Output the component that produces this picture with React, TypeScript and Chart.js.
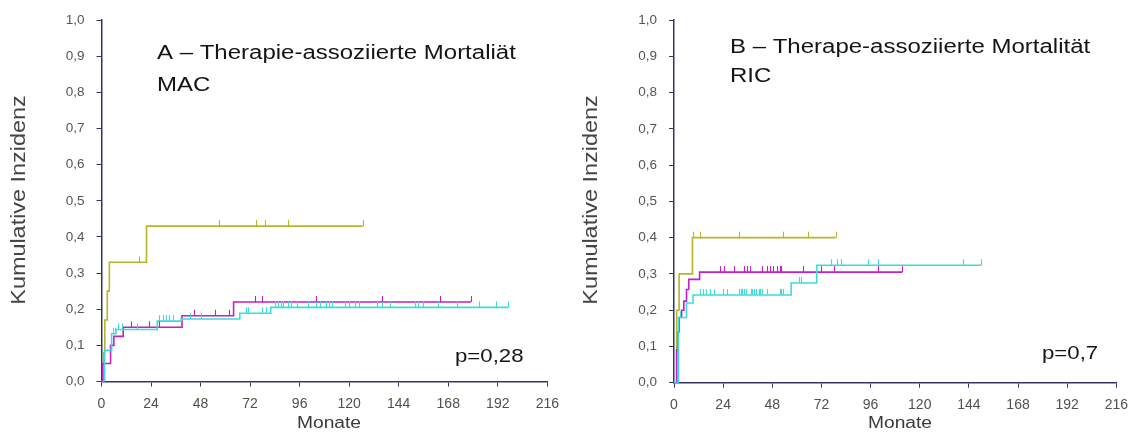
import React, { useEffect, useRef } from 'react';
import { Chart, registerables } from 'chart.js';

Chart.register(...registerables);

// Axis tick values
const monthTicks = [0, 24, 48, 72, 96, 120, 144, 168, 192, 216];
const incidenceTicks = [0, 0.1, 0.2, 0.3, 0.4, 0.5, 0.6, 0.7, 0.8, 0.9, 1.0];

// Panel A (MAC) – step points (months, cumulative incidence) and censoring times
const macOliveTimes = [0, 1, 1.6, 2.8, 3.8, 21.8, 126.6];
const macOliveValues = [0, 0.08, 0.17, 0.25, 0.33, 0.43, 0.43];
const macOliveCensored = [18.2, 57.1, 74.9, 79.3, 90.4, 126.6];

const macMagentaTimes = [0, 0.5, 4.4, 6, 10.5, 39, 64, 179];
const macMagentaValues = [0, 0.05, 0.1, 0.125, 0.15, 0.182, 0.22, 0.22];
const macMagentaCensored = [14.5, 23, 28, 44.7, 54.8, 61.6, 74.5, 78, 104, 136, 164, 179];

const macCyanTimes = [0, 1.5, 4.9, 7, 27, 38.6, 67, 82, 197];
const macCyanValues = [0, 0.086, 0.132, 0.144, 0.167, 0.173, 0.189, 0.205, 0.205];
const macCyanCensored = [
  5.4, 6.5, 8.1, 9.7, 17.4, 28, 29.6, 31.2, 32.8, 34.4, 43, 48, 70, 71.2, 77.7, 79.6,
  84, 85.5, 87, 88, 90.5, 92, 94.7, 100, 103.7, 106, 109, 110, 111.7, 118, 119.8, 123,
  124.6, 133.7, 135.8, 140, 152, 153.5, 156, 163, 172, 183, 191, 197,
];

// Panel B (RIC)
const ricOliveTimes = [0, 1.3, 2.5, 9, 79];
const ricOliveValues = [0, 0.2, 0.3, 0.4, 0.4];
const ricOliveCensored = [9.5, 12.5, 31.7, 53.4, 65.4, 79];

const ricMagentaTimes = [0, 1.3, 2, 2.5, 3.7, 4.8, 6.1, 7.2, 12.5, 111.5];
const ricMagentaValues = [0, 0.09, 0.14, 0.18, 0.2, 0.225, 0.257, 0.285, 0.305, 0.305];
const ricMagentaCensored = [
  22.6, 24.5, 29.3, 34.1, 35.7, 37.3, 42.9, 45.3, 46.9, 48.5, 50.1, 51.7, 52.4, 63, 72,
  78, 99.7, 111.5,
];

const ricCyanTimes = [0, 2.2, 6.1, 9.3, 57.2, 69.7, 150];
const ricCyanValues = [0, 0.18, 0.22, 0.242, 0.275, 0.324, 0.324];
const ricCyanCensored = [
  3, 12.5, 14.1, 15.7, 17.6, 19.7, 23.7, 26.1, 31.8, 32.6, 33.4, 34.2, 35, 37.4, 38.2,
  39, 39.8, 41.4, 42.2, 43, 45.3, 51.7, 52.4, 53.4, 61, 62, 69.4, 76.6, 79.8, 81.4, 94.6,
  99.4, 141.3, 150,
];

const OLIVE = '#b6b628';
const MAGENTA = '#c41fc4';
const CYAN = '#3ddcdc';
const AXIS = '#34346a';
const FONT = '"Liberation Sans", Arial, sans-serif';

type TextItem = {
  text: string;
  x: number;
  y: number;
  size: number;
  color: string;
  align?: CanvasTextAlign;
  baseline?: CanvasTextBaseline;
  rotate?: number;
  stretch?: number;
};

function stepSeries(times: number[], values: number[], color: string, censored: number[]) {
  return {
    data: times.map((t, i) => ({ x: t, y: values[i] })),
    borderColor: color,
    backgroundColor: color,
    borderWidth: 1.6,
    pointRadius: 0,
    stepped: 'before' as const,
    fill: false,
    censored,
  };
}

// Small vertical ticks above the curve at each censoring time
const censorPlugin = {
  id: 'censorMarks',
  afterDatasetsDraw(chart: any) {
    const { ctx } = chart;
    const xs = chart.scales.x;
    const ys = chart.scales.y;
    ctx.save();
    chart.data.datasets.forEach((ds: any) => {
      ctx.strokeStyle = ds.borderColor;
      ctx.lineWidth = 1.1;
      (ds.censored || []).forEach((t: number) => {
        let v = 0;
        for (const p of ds.data) if (p.x <= t) v = p.y;
        const px = Math.round(xs.getPixelForValue(t)) + 0.5;
        const py = ys.getPixelForValue(v);
        ctx.beginPath();
        ctx.moveTo(px, py);
        ctx.lineTo(px, py - 6);
        ctx.stroke();
      });
    });
    ctx.restore();
  },
};

function textPlugin(items: TextItem[]) {
  return {
    id: 'panelText',
    afterDraw(chart: any) {
      const { ctx } = chart;
      for (const it of items) {
        ctx.save();
        ctx.font = `${it.size}px ${FONT}`;
        ctx.fillStyle = it.color;
        ctx.textAlign = it.align ?? 'left';
        ctx.textBaseline = it.baseline ?? 'alphabetic';
        ctx.translate(it.x, it.y);
        if (it.rotate) ctx.rotate(it.rotate);
        ctx.scale(it.stretch ?? 1, 1);
        ctx.fillText(it.text, 0, 0);
        ctx.restore();
      }
    },
  };
}

type PanelSpec = {
  datasets: any[];
  texts: TextItem[];
  yAxisWidth: number;
  xAxisHeight: number;
  padRight: number;
  padTop: number;
};

function buildConfig(spec: PanelSpec): any {
  return {
    type: 'line',
    data: { datasets: spec.datasets },
    options: {
      animation: false,
      responsive: false,
      maintainAspectRatio: false,
      layout: { padding: { left: 0, top: spec.padTop, right: spec.padRight, bottom: 0 } },
      plugins: { legend: { display: false }, tooltip: { enabled: false } },
      scales: {
        x: {
          type: 'linear',
          min: 0,
          max: 216,
          afterBuildTicks: (s: any) => {
            s.ticks = monthTicks.map((v) => ({ value: v }));
          },
          afterFit: (s: any) => {
            s.height = spec.xAxisHeight;
          },
          border: { display: true, color: AXIS, width: 1.5 },
          grid: { drawOnChartArea: false, drawTicks: true, tickLength: 5, color: AXIS, lineWidth: 1 },
          ticks: {
            color: '#505050',
            font: { size: 14, family: FONT },
            padding: 9,
            maxRotation: 0,
            autoSkip: false,
            callback: (v: any) => String(v),
          },
        },
        y: {
          type: 'linear',
          min: 0,
          max: 1,
          afterBuildTicks: (s: any) => {
            s.ticks = incidenceTicks.map((v) => ({ value: v }));
          },
          afterFit: (s: any) => {
            s.width = spec.yAxisWidth;
          },
          border: { display: true, color: AXIS, width: 1.5 },
          grid: { drawOnChartArea: false, drawTicks: true, tickLength: 5, color: AXIS, lineWidth: 1 },
          ticks: {
            color: '#555555',
            font: { size: 13.5, family: FONT },
            padding: 12,
            autoSkip: false,
            callback: (v: any) => Number(v).toFixed(1).replace('.', ','),
          },
        },
      },
    },
    plugins: [censorPlugin, textPlugin(spec.texts)],
  };
}

const panelA: PanelSpec = {
  datasets: [
    stepSeries(macCyanTimes, macCyanValues, CYAN, macCyanCensored),
    stepSeries(macMagentaTimes, macMagentaValues, MAGENTA, macMagentaCensored),
    stepSeries(macOliveTimes, macOliveValues, OLIVE, macOliveCensored),
  ],
  texts: [
    { text: 'A \u2013 Therapie-assoziierte Mortaliät', x: 157, y: 59, size: 20, color: '#141414', stretch: 1.2 },
    { text: 'MAC', x: 157, y: 91, size: 20, color: '#141414', stretch: 1.2 },
    { text: 'p=0,28', x: 455, y: 362, size: 18.5, color: '#141414', stretch: 1.2 },
    { text: 'Monate', x: 329, y: 424, size: 16, color: '#3a3a3a', align: 'center', baseline: 'middle', stretch: 1.2 },
    {
      text: 'Kumulative Inzidenz', x: 20, y: 200, size: 19.5, color: '#444444',
      align: 'center', baseline: 'middle', rotate: -Math.PI / 2, stretch: 1.2,
    },
  ],
  yAxisWidth: 101.5,
  xAxisHeight: 53.5,
  padRight: 18.3,
  padTop: 16.5,
};

const panelB: PanelSpec = {
  datasets: [
    stepSeries(ricCyanTimes, ricCyanValues, CYAN, ricCyanCensored),
    stepSeries(ricMagentaTimes, ricMagentaValues, MAGENTA, ricMagentaCensored),
    stepSeries(ricOliveTimes, ricOliveValues, OLIVE, ricOliveCensored),
  ],
  texts: [
    { text: 'B \u2013 Therape-assoziierte Mortalität', x: 162, y: 53, size: 20, color: '#141414', stretch: 1.2 },
    { text: 'RIC', x: 162, y: 82, size: 20, color: '#141414', stretch: 1.2 },
    { text: 'p=0,7', x: 474, y: 359, size: 18.5, color: '#141414', stretch: 1.2 },
    { text: 'Monate', x: 332, y: 424, size: 16, color: '#3a3a3a', align: 'center', baseline: 'middle', stretch: 1.2 },
    {
      text: 'Kumulative Inzidenz', x: 24, y: 200, size: 19.5, color: '#444444',
      align: 'center', baseline: 'middle', rotate: -Math.PI / 2, stretch: 1.2,
    },
  ],
  yAxisWidth: 106,
  xAxisHeight: 52.3,
  padRight: 14,
  padTop: 16.5,
};

function Panel({ spec, left, width }: { spec: PanelSpec; left: number; width: number }) {
  const ref = useRef<HTMLCanvasElement>(null);
  useEffect(() => {
    if (!ref.current) return;
    const chart = new Chart(ref.current, buildConfig(spec));
    return () => chart.destroy();
  }, [spec]);
  return (
    <canvas
      ref={ref}
      width={width}
      height={435}
      style={{ position: 'absolute', left, top: 0, width, height: 435, display: 'block' }}
    />
  );
}

export default function App() {
  return (
    <div style={{ position: 'fixed', left: 0, top: 0, width: 1137, height: 435, background: '#ffffff' }}>
      <Panel spec={panelA} left={0} width={568} />
      <Panel spec={panelB} left={568} width={569} />
    </div>
  );
}
